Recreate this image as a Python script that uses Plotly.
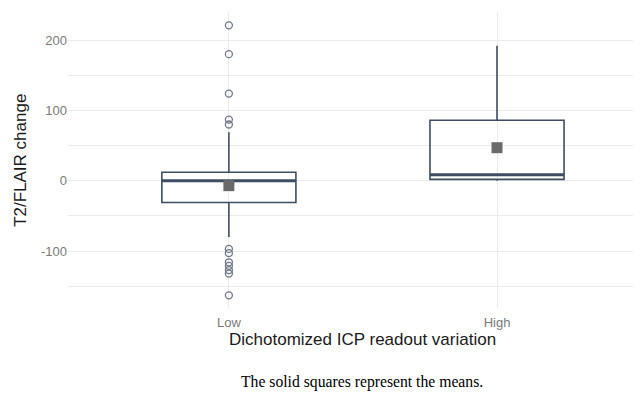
import plotly.graph_objects as go

# ---- data ----
categories = ["Low", "High"]
q1_vals = [-31, 2]
median_vals = [0, 8.5]
q3_vals = [12, 86]
lower_whisker = [-80, 0]
upper_whisker = [69, 192]
mean_vals = [-7, 47]
low_outliers = [221, 180, 124, 87, 80, -97, -103, -116, -121, -127, -132, -163]
high_outliers = []

y_major_ticks = [-100, 0, 100, 200]
y_major_labels = ["-100", "0", "100", "200"]
y_minor_ticks = [-150, -50, 50, 150]

# ---- style ----
BOX_COLOR = "#3e4e62"
MEAN_COLOR = "#6a6a6a"
OUT_COLOR = "#6f7888"
GRID = "#ebebeb"
BOX_W = 0.5

pos = list(range(len(categories)))

fig = go.Figure()

fig.add_trace(go.Box(
    x=pos, q1=q1_vals, median=median_vals, q3=q3_vals,
    lowerfence=lower_whisker, upperfence=upper_whisker,
    width=BOX_W, fillcolor="rgba(255,255,255,0)",
    line=dict(color=BOX_COLOR, width=1.6), whiskerwidth=0,
    boxpoints=False, showlegend=False, hoverinfo="skip",
))

# thicker median lines (ggplot style)
for p, m in zip(pos, median_vals):
    fig.add_trace(go.Scatter(
        x=[p - BOX_W / 2, p + BOX_W / 2], y=[m, m], mode="lines",
        line=dict(color=BOX_COLOR, width=3), showlegend=False, hoverinfo="skip",
    ))

# outliers
out_x = [pos[0]] * len(low_outliers) + [pos[1]] * len(high_outliers)
out_y = low_outliers + high_outliers
fig.add_trace(go.Scatter(
    x=out_x, y=out_y, mode="markers",
    marker=dict(symbol="circle-open", size=7, color=OUT_COLOR, line=dict(width=1.3)),
    showlegend=False, hoverinfo="skip",
))

# means
fig.add_trace(go.Scatter(
    x=pos, y=mean_vals, mode="markers",
    marker=dict(symbol="square", size=11, color=MEAN_COLOR),
    showlegend=False, hoverinfo="skip",
))

# page body has an 8px default margin -> compensate
fig.update_layout(
    width=633, height=386,
    margin=dict(l=60, r=0, t=4, b=86),
    plot_bgcolor="white", paper_bgcolor="white",
    font=dict(family="Liberation Sans, Arial, sans-serif"),
    xaxis=dict(
        range=[-0.6, 1.537], tickvals=pos, ticktext=categories,
        showgrid=True, gridcolor=GRID, gridwidth=1.2, zeroline=False,
        showline=False, ticks="", ticklabelstandoff=5,
        tickfont=dict(size=13, color="#7a7a7a"),
    ),
    yaxis=dict(
        range=[-181, 240], tickvals=y_major_ticks, ticktext=y_major_labels,
        showgrid=True, gridcolor=GRID, gridwidth=1.2, zeroline=False,
        showline=False, ticks="", tickfont=dict(size=13, color="#7a7a7a"),
        minor=dict(tickvals=y_minor_ticks, showgrid=True, gridcolor=GRID, gridwidth=1),
    ),
    annotations=[
        dict(text="Dichotomized ICP readout variation", x=0.5, xref="x",
             y=-0.108, yref="paper", xanchor="center", yanchor="middle",
             showarrow=False, font=dict(size=17, color="#1a1a1a")),
        dict(text="T2/FLAIR change", x=-0.084, xref="paper", y=0.5, yref="paper",
             xanchor="center", yanchor="middle", textangle=-90,
             showarrow=False, font=dict(size=17, color="#1a1a1a")),
        dict(text="The solid squares represent the means.", x=0.497, xref="x",
             y=-0.25, yref="paper", xanchor="center", yanchor="middle",
             showarrow=False,
             font=dict(size=15.7, color="#000000", family="Liberation Serif, Times New Roman, serif")),
    ],
)

fig.write_html("out.html")
